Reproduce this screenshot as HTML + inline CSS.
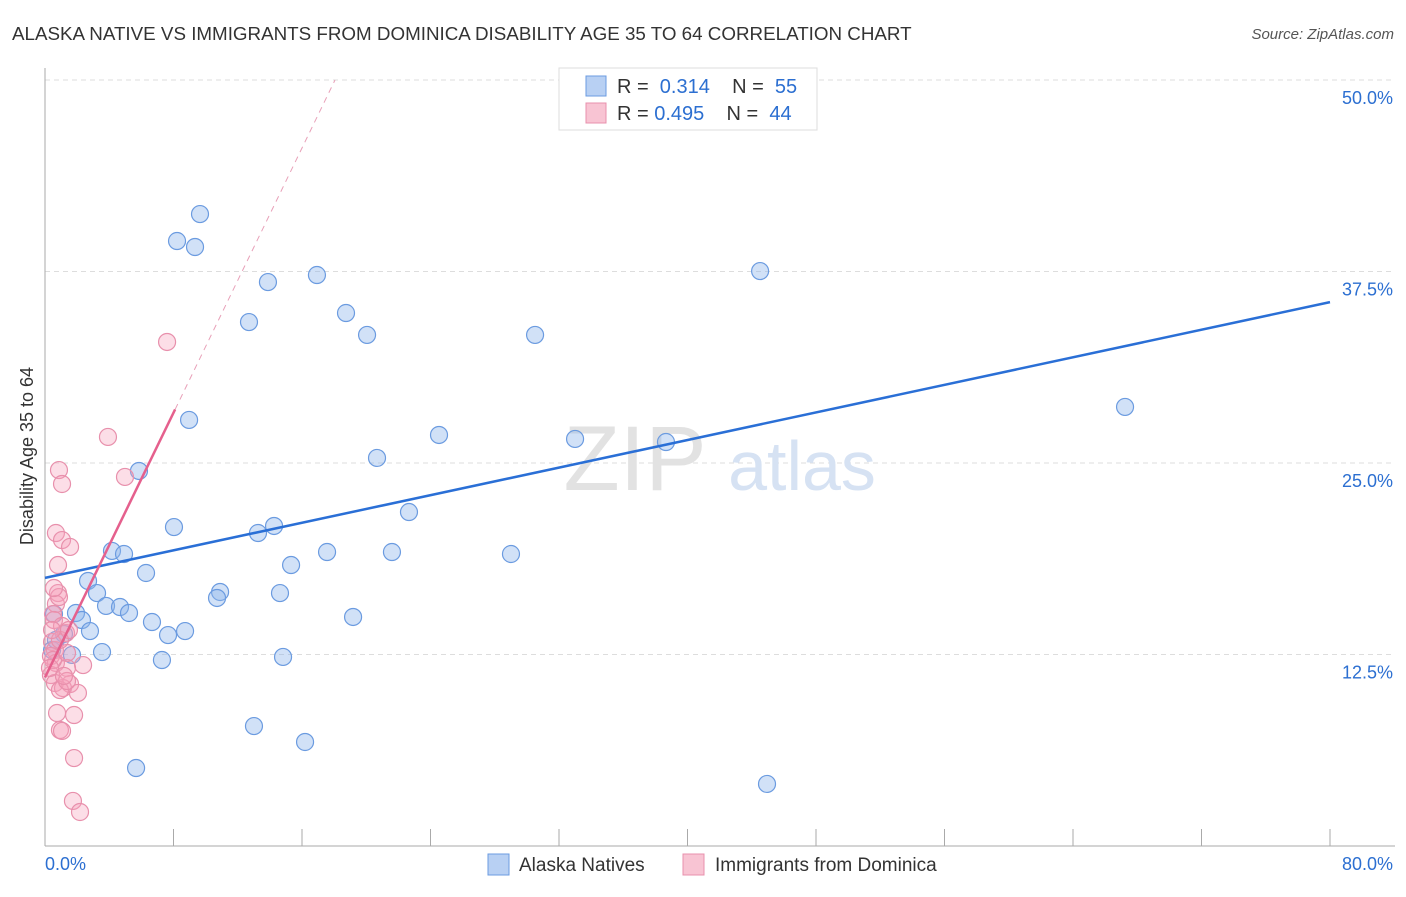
<!DOCTYPE html>
<html><head><meta charset="utf-8"><style>
body{margin:0;background:#fff;font-family:"Liberation Sans",sans-serif;}
svg text{font-family:"Liberation Sans",sans-serif;}
</style></head><body>
<svg id="chart" width="1406" height="892">
<text x="12" y="40" font-size="18.8" fill="#333">ALASKA NATIVE VS IMMIGRANTS FROM DOMINICA DISABILITY AGE 35 TO 64 CORRELATION CHART</text>
<text x="1394" y="39" font-size="15" fill="#555" font-style="italic" text-anchor="end">Source: ZipAtlas.com</text>
<text x="33" y="456" font-size="18" fill="#333" text-anchor="middle" transform="rotate(-90 33 456)">Disability Age 35 to 64</text>
<g id="grid"></g>
<text x="635" y="490" font-size="92" fill="#e2e2e2" font-family="Liberation Serif" text-anchor="middle">ZIP</text>
<text x="802" y="490" font-size="70" fill="#d6e2f3" text-anchor="middle">atlas</text>
<g id="pts"></g>
<g id="lines"></g>
<g>
<rect x="559" y="68" width="258" height="62" fill="#fff" stroke="#ddd"/>
<rect x="586" y="76" width="20" height="20" fill="#b8d0f3" stroke="#6b9be0"/>
<rect x="586" y="103" width="20" height="20" fill="#f8c4d3" stroke="#e890ac"/>
<text x="617" y="93" font-size="20" fill="#333" xml:space="preserve">R =  <tspan fill="#2c6fd1">0.314</tspan>    N =  <tspan fill="#2c6fd1">55</tspan></text>
<text x="617" y="120" font-size="20" fill="#333" xml:space="preserve">R = <tspan fill="#2c6fd1">0.495</tspan>    N =  <tspan fill="#2c6fd1">44</tspan></text>
</g>
<g>
<rect x="488" y="854" width="21" height="21" fill="#b8d0f3" stroke="#6b9be0"/>
<text x="519" y="871" font-size="19" fill="#333">Alaska Natives</text>
<rect x="683" y="854" width="21" height="21" fill="#f8c4d3" stroke="#e890ac"/>
<text x="715" y="871" font-size="19" fill="#333">Immigrants from Dominica</text>
</g>
</svg>
<script>
const xTicks=[0,8,16,24,32,40,48,56,64,72,80];
const yTicks=[12.5,25,37.5,50];
const blueX=[9.65,8.22,9.34,13.88,16.93,12.70,18.74,20.05,44.52,30.51,67.24,8.97,24.53,33.00,38.66,20.67,5.85,8.03,13.26,14.26,22.66,4.17,4.92,17.56,21.60,29.01,15.32,6.29,2.68,3.24,10.90,10.71,14.63,3.80,4.67,5.23,1.93,2.30,6.66,19.18,0.56,2.80,7.66,8.72,1.18,3.55,1.68,7.28,14.82,0.44,13.01,16.19,5.67,44.95,0.68];
const blueY=[41.25,39.49,39.10,36.81,37.27,34.20,34.79,33.36,37.53,33.36,28.66,27.81,26.83,26.57,26.37,25.33,24.48,20.82,20.43,20.89,21.80,19.26,19.06,19.19,19.19,19.06,18.34,17.82,17.30,16.51,16.58,16.19,16.51,15.67,15.60,15.21,15.21,14.75,14.62,14.95,15.14,14.03,13.77,14.03,13.84,12.66,12.47,12.14,12.34,12.79,7.83,6.79,5.09,4.05,13.45];
const pinkX=[7.60,3.92,0.87,1.06,4.98,0.68,1.06,1.56,0.81,0.81,0.68,0.50,0.56,1.06,1.31,0.44,0.62,0.37,0.68,2.37,1.37,0.37,0.62,1.56,1.12,0.93,2.05,1.37,0.75,1.81,0.93,1.06,1.81,1.74,2.18,0.50,0.31,0.87,0.56,1.37,0.93,0.44,1.49,1.18];
const pinkY=[32.90,26.70,24.54,23.63,24.09,20.43,19.97,19.52,18.34,16.51,15.80,15.14,14.75,14.36,13.90,13.32,12.79,12.40,11.95,11.81,11.62,11.16,10.64,10.57,10.31,10.18,9.99,10.77,8.68,8.55,7.57,7.51,5.74,2.94,2.22,12.14,11.62,16.25,16.84,12.60,13.45,14.10,14.10,11.10];
const blueLine=[17.5,35.5];
const pinkLine=[11.0,2.16];
const X=v=>45+v/80*1285, Y=v=>846-v/50*766;
const NS="http://www.w3.org/2000/svg";
function mk(t,a,p){const e=document.createElementNS(NS,t);for(const k in a)e.setAttribute(k,a[k]);p.appendChild(e);return e;}
const g=document.getElementById('grid');
yTicks.forEach(v=>{
 const l=mk('line',{x1:45,x2:1395,y1:Y(v),y2:Y(v),stroke:'#ddd','stroke-dasharray':'5,4'},g);
 
 
 const t=mk('text',{x:1393,y:Y(v)+24,'font-size':18,fill:'#2c6fd1','text-anchor':'end'},g);
 t.textContent=v.toFixed(1)+'%';
 
 
});
const ax=mk('line',{x1:45,x2:45,y1:68,y2:846,stroke:'#aaa'},g);


const bx=mk('line',{x1:45,x2:1395,y1:846,y2:846,stroke:'#aaa'},g);


xTicks.forEach(v=>{
 const l=mk('line',{x1:X(v),x2:X(v),y1:829,y2:846,stroke:'#aaa'},g);
 
 
});
[[0,'start',45],[80,'end',1393]].forEach(([v,a,x])=>{
 const t=mk('text',{x:x,y:870,'font-size':18,fill:'#2c6fd1','text-anchor':a},g);
 t.textContent=v.toFixed(1)+'%';
 
 
});
const p=document.getElementById('pts');
blueX.forEach((v,i)=>{
 const c=mk('circle',{cx:X(v),cy:Y(blueY[i]),r:8.5,fill:'rgba(140,180,235,0.4)',stroke:'#6b9be0','stroke-width':1.2},p);
 
 
});
pinkX.forEach((v,i)=>{
 const c=mk('circle',{cx:X(v),cy:Y(pinkY[i]),r:8.5,fill:'rgba(245,160,185,0.35)',stroke:'#e890ac','stroke-width':1.2},p);
 
 
});
const L=document.getElementById('lines');
const bl=mk('line',{x1:X(0),y1:Y(blueLine[0]),x2:X(80),y2:Y(blueLine[1]),stroke:'#2a6fd6','stroke-width':2.5},L);


const xe=8.1, xd=(50-pinkLine[0])/pinkLine[1];
const pl=mk('line',{x1:X(0),y1:Y(pinkLine[0]),x2:X(xe),y2:Y(pinkLine[0]+pinkLine[1]*xe),stroke:'#e5608d','stroke-width':2.5},L);


const pd=mk('line',{x1:X(xe),y1:Y(pinkLine[0]+pinkLine[1]*xe),x2:X(xd),y2:Y(50),stroke:'#e8a0b8','stroke-width':1,'stroke-dasharray':'6,5'},L);


</script>
</body></html>
